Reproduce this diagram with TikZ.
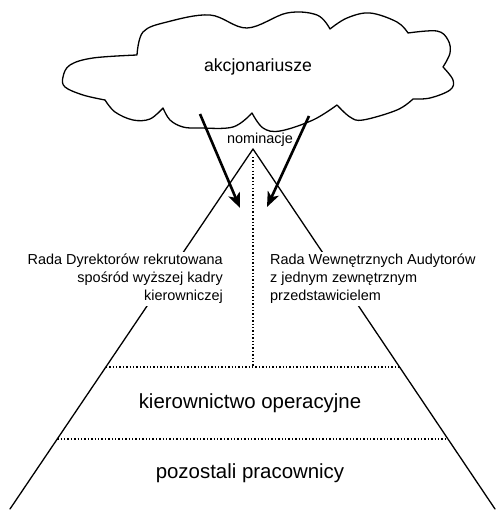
\documentclass[tikz,border=0pt]{standalone}
\usepackage{fontspec}
\setmainfont{Liberation Sans}
\usetikzlibrary{arrows.meta,calc}
\begin{document}
\begin{tikzpicture}[x=1bp,y=1bp,
  outline/.style={line width=1.3bp, line join=round, line cap=round},
  divider/.style={line width=1.2bp, dash pattern=on 1.3bp off 2.1bp},
  nominate/.style={line width=2.6bp, -{Stealth[length=15bp,width=12bp,inset=4bp]}},
  sidetext/.style={font=\fontsize{14.5}{18}\selectfont, inner sep=2bp},
  tier/.style={font=\fontsize{20.5}{24}\selectfont}]
\useasboundingbox (0,0) rectangle (496,-510);

% shareholders cloud
\draw[outline]
  plot[smooth,tension=0.6] coordinates {(137,-55) (143,-32) (167,-22) (210,-15) (247,-28) (287,-13) (317,-15) (330,-29)}
  -- plot[smooth,tension=0.6] coordinates {(330,-29) (347,-18) (370,-13) (397,-22) (408,-33)}
  -- plot[smooth,tension=0.6] coordinates {(408,-33) (437,-31) (448,-40) (450,-53) (443,-67)}
  -- plot[smooth,tension=0.6] coordinates {(443,-67) (453,-80) (450,-90) (430,-98) (413,-99)}
  -- plot[smooth,tension=0.6] coordinates {(413,-99) (397,-110) (363,-120) (350,-117) (337,-105)}
  -- plot[smooth,tension=0.6] coordinates {(337,-105) (313,-120) (280,-131) (263,-128) (252,-113)}
  -- plot[smooth,tension=0.6] coordinates {(252,-113) (233,-127) (200,-128) (183,-127) (170,-120) (163,-108)}
  -- plot[smooth,tension=0.6] coordinates {(163,-108) (150,-119) (133,-120) (115,-112) (105,-100)}
  -- plot[smooth,tension=0.6] coordinates {(105,-100) (83,-95) (65,-87) (63,-77) (70,-65) (93,-58) (137,-55)}
  -- cycle;
\node[font=\fontsize{17.7}{20}\selectfont, anchor=base] (holders) at (258,-72) {akcjonariusze};

% pyramid
\coordinate (apex) at (253,-149);
\coordinate (bl) at (10,-509);
\coordinate (br) at (495,-509);
\draw[outline] (bl) -- (apex) -- (br);

% tier dividers
\coordinate (upL) at ($(apex)!0.6056!(bl)$);
\coordinate (upR) at ($(apex)!0.6056!(br)$);
\coordinate (loL) at ($(apex)!0.8056!(bl)$);
\coordinate (loR) at ($(apex)!0.8056!(br)$);
\coordinate (midTop) at (253,-157);
\coordinate (midBot) at (253,-367);
\draw[divider] (upL) -- (upR);
\draw[divider] (loL) -- (loR);
\draw[divider] (midTop) -- (midBot);

% labels
\node[sidetext, anchor=base] (nom) at (260,-144) {nominacje};
\node[sidetext, fill=white, align=right, anchor=north east] (board) at (225,-252)
  {Rada Dyrektorów rekrutowana\\spośród wyższej kadry\\kierowniczej};
\node[sidetext, fill=white, align=left, anchor=north west] (audit) at (268,-252)
  {Rada Wewnętrznych Audytorów\\z jednym zewnętrznym\\przedstawicielem};
\node[tier, anchor=base] (ops) at (250,-408) {kierownictwo operacyjne};
\node[tier, anchor=base] (staff) at (250,-478) {pozostali pracownicy};

% nomination arrows
\coordinate (srcL) at (200,-114);
\coordinate (tipL) at (240,-208);
\coordinate (srcR) at (309,-116);
\coordinate (tipR) at (267,-207);
\draw[nominate] (srcL) -- (tipL);
\draw[nominate] (srcR) -- (tipR);
\end{tikzpicture}
\end{document}
